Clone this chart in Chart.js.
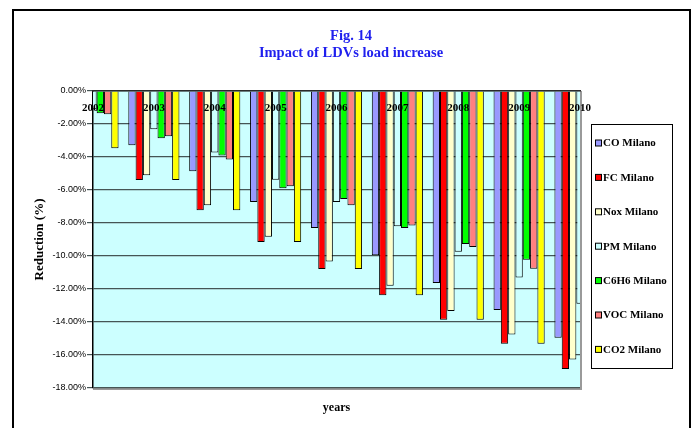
<!DOCTYPE html>
<html>
<head>
<meta charset="utf-8">
<script src="https://cdn.jsdelivr.net/npm/chart.js@4.4.1/dist/chart.umd.min.js"></script>
<style>
  html, body { margin: 0; padding: 0; background: #ffffff; }
  #wrap { width: 694px; height: 428px; }
</style>
</head>
<body>
<div id="wrap"><canvas id="chart" width="694" height="428"></canvas></div>
<script>
// Years on the category axis
const years = ['2002', '2003', '2004', '2005', '2006', '2007', '2008', '2009', '2010'];

// Reduction (%) per pollutant, Milano
const coMilano   = [null, -3.29, -4.86, -6.73, -8.31, -9.96, -11.63, -13.27, -14.96];
const fcMilano   = [null, -5.40, -7.22, -9.15, -10.79, -12.38, -13.87, -15.32, -16.85];
const noxMilano  = [null, -5.10, -6.92, -8.83, -10.34, -11.81, -13.33, -14.76, -16.27];
const pmMilano   = [-1.10, -2.32, -3.73, -5.38, -6.73, -8.19, -9.74, -11.31, -12.90];
const c6h6Milano = [-1.35, -2.86, -3.91, -5.89, -6.55, -8.31, -9.27, -10.22, null];
const vocMilano  = [-1.41, -2.74, -4.15, -5.77, -6.92, -8.15, -9.46, -10.77, null];
const co2Milano  = [-3.47, -5.40, -7.22, -9.15, -10.79, -12.38, -13.87, -15.32, null];

// Value axis ticks
const yMin = -18;
const yMax = 0;
const yStep = 2;

const serif = '"Liberation Serif", "Times New Roman", serif';
const sans = '"Liberation Sans", Arial, sans-serif';

const series = [
  { label: 'CO Milano',   data: coMilano,   color: '#9999FF' },
  { label: 'FC Milano',   data: fcMilano,   color: '#FF0000' },
  { label: 'Nox Milano',  data: noxMilano,  color: '#FFFFCC' },
  { label: 'PM Milano',   data: pmMilano,   color: '#CCFFFF' },
  { label: 'C6H6 Milano', data: c6h6Milano, color: '#00FF00' },
  { label: 'VOC Milano',  data: vocMilano,  color: '#FF8080' },
  { label: 'CO2 Milano',  data: co2Milano,  color: '#FFFF00' }
];

// Frame, plot background, titles and the boxed legend
const decorations = {
  id: 'decorations',
  beforeDraw(chart) {
    const { ctx, chartArea: a } = chart;
    ctx.save();
    ctx.fillStyle = '#ffffff';
    ctx.fillRect(0, 0, chart.width, chart.height);
    ctx.fillStyle = '#CCFFFF';
    ctx.fillRect(a.left, a.top, a.right - a.left, a.bottom - a.top);
    // plot area edge on the right and bottom
    ctx.strokeStyle = '#9a9a9a';
    ctx.lineWidth = 2;
    ctx.beginPath();
    ctx.moveTo(a.right + 1, a.top);
    ctx.lineTo(a.right + 1, a.bottom + 1);
    ctx.lineTo(a.left, a.bottom + 1);
    ctx.stroke();
    ctx.restore();
  },
  afterDraw(chart) {
    const { ctx, chartArea: a } = chart;
    ctx.save();
    // outer frame
    ctx.strokeStyle = '#000000';
    ctx.lineWidth = 2;
    ctx.strokeRect(13, 10, 677, 440);

    // chart title
    ctx.fillStyle = '#1f1fee';
    ctx.textAlign = 'center';
    ctx.textBaseline = 'middle';
    ctx.font = 'bold 14.5px ' + serif;
    ctx.fillText('Fig. 14', 351, 36.5);
    ctx.fillText('Impact of LDVs load increase', 351, 53);

    // axis titles
    ctx.fillStyle = '#000000';
    ctx.font = 'bold 12px ' + serif;
    ctx.fillText('years', (a.left + a.right) / 2, 408);
    ctx.save();
    ctx.translate(40, (a.top + a.bottom) / 2);
    ctx.rotate(-Math.PI / 2);
    ctx.font = 'bold 13px ' + serif;
    ctx.fillText('Reduction (%)', 0, 0);
    ctx.restore();

    // legend box
    const lx = 591.5, ly = 124.5, lw = 81, lh = 244;
    ctx.fillStyle = '#ffffff';
    ctx.fillRect(lx, ly, lw, lh);
    ctx.strokeStyle = '#000000';
    ctx.lineWidth = 1;
    ctx.strokeRect(lx, ly, lw, lh);
    ctx.font = 'bold 11px ' + serif;
    ctx.textAlign = 'left';
    chart.data.datasets.forEach((ds, i) => {
      const cy = 143.5 + i * 34.4;
      ctx.fillStyle = ds.backgroundColor;
      ctx.fillRect(595.5, cy - 3.5, 6, 6);
      ctx.strokeStyle = '#000000';
      ctx.strokeRect(595.5, cy - 3.5, 6, 6);
      ctx.fillStyle = '#000000';
      ctx.fillText(ds.label, 603, cy);
    });
    ctx.restore();
  }
};

new Chart(document.getElementById('chart'), {
  type: 'bar',
  data: {
    labels: years,
    datasets: series.map(s => ({
      label: s.label,
      data: s.data,
      backgroundColor: s.color,
      borderColor: '#000000',
      borderWidth: 1
    }))
  },
  options: {
    responsive: false,
    animation: false,
    layout: { padding: { left: 0, top: 91, right: 114, bottom: 40 } },
    datasets: { bar: { categoryPercentage: 0.84, barPercentage: 1, clip: 0 } },
    plugins: {
      legend: { display: false },
      title: { display: false },
      tooltip: { enabled: false }
    },
    scales: {
      x: {
        type: 'category',
        position: 'top',
        offset: false,
        grid: { display: false },
        border: { display: true, color: '#2a2a2a', width: 1.5, z: 1 },
        ticks: {
          mirror: true,
          padding: 11,
          z: 1,
          autoSkip: false,
          maxRotation: 0,
          color: '#000000',
          font: { family: serif, size: 11, weight: 'bold' }
        },
        afterFit(scale) { scale.height = 0; }
      },
      y: {
        min: yMin,
        max: yMax,
        ticks: {
          stepSize: yStep,
          padding: 1,
          color: '#000000',
          font: { family: sans, size: 9 },
          callback: v => v.toFixed(2) + '%'
        },
        grid: { color: '#455555', lineWidth: 1.2, tickLength: 6 },
        border: { color: '#000000', width: 1.5 },
        afterFit(scale) { scale.width = 93; }
      }
    }
  },
  plugins: [decorations]
});
</script>
</body>
</html>
